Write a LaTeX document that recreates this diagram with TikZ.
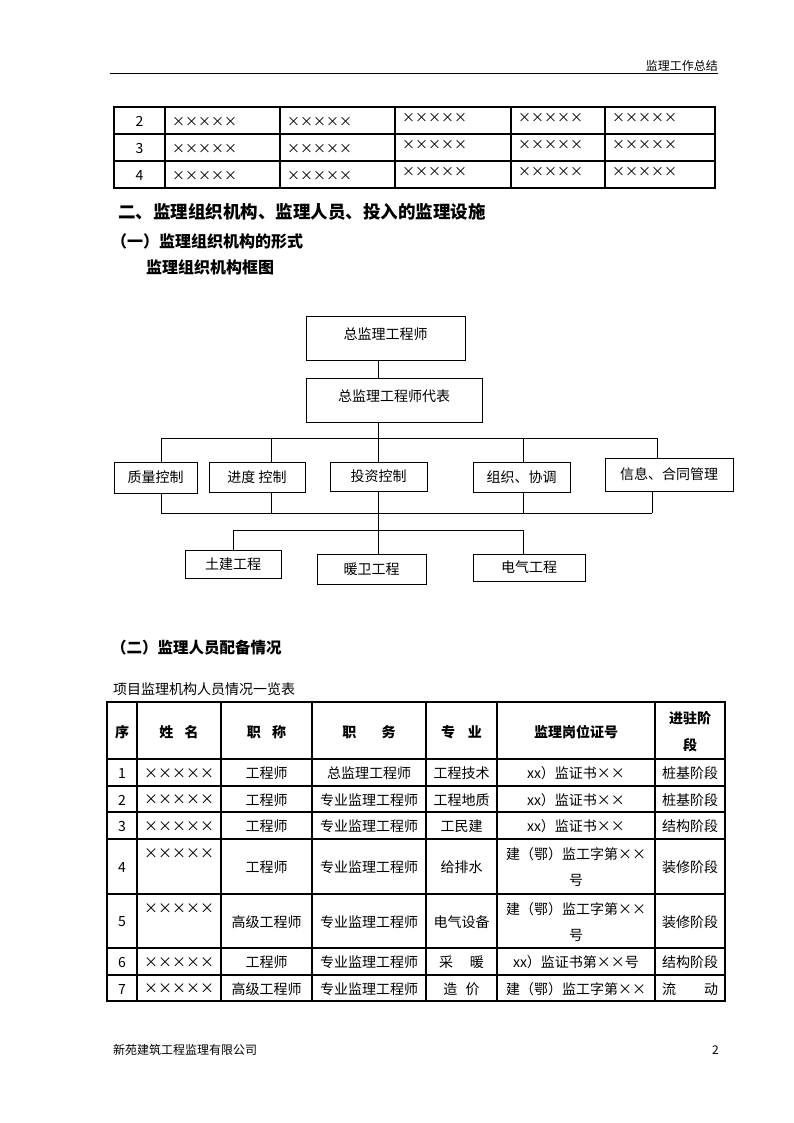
\documentclass[tikz,border=0pt]{standalone}
\usepackage{fontspec}
\setmainfont{Noto Sans CJK SC}
\usetikzlibrary{positioning}
\tikzset{
  orgbox/.style={draw, line width=0.9pt, inner sep=2pt, font=\fontsize{14}{16}\selectfont},
  link/.style={line width=0.9pt},
  grid/.style={line width=1.1pt},
  cell/.style={inner sep=0pt, align=center, yshift=-1pt, font=\fontsize{14}{26}\selectfont},
  headcell/.style={cell, font=\bfseries\fontsize{14}{27}\selectfont},
  title/.style={anchor=west, inner sep=0pt, font=\bfseries\fontsize{16}{18}\selectfont},
  plain/.style={inner sep=0pt, font=\fontsize{12}{14}\selectfont},
}
\newcommand\crs{\makebox[1em]{×}}
\newcommand\crosses{\crs\crs\crs\crs\crs}

\begin{document}
\begin{tikzpicture}[x=1pt,y=-1pt]
  \useasboundingbox (0,0) rectangle (794,1123);
  \fill[white] (0,0) rectangle (794,1123);

  % running head
  \node[plain, anchor=east] (head) at (718,66) {监理工作总结};
  \draw[line width=1pt] (110,74) -- (718,74);

  % first table (continued)
  \draw[grid] (114,107) rectangle (715,188);
  \foreach \y in {134,161} \draw[grid] (114,\y) -- (715,\y);
  \foreach \x in {165,280,395,511,605} \draw[grid] (\x,107) -- (\x,188);
  \foreach \n [count=\i] in {2,3,4} {
    \pgfmathsetmacro\yc{120.5+27*(\i-1)}
    \node[cell, font=\fontsize{14}{16}\selectfont] at (139.5,\yc) {\n};
    \foreach \x in {172,287}
      \node[cell, anchor=west, font=\fontsize{13}{16}\selectfont] at (\x,\yc) {\crosses};
    \foreach \x in {402,518,612}
      \node[cell, anchor=west, font=\fontsize{13}{16}\selectfont] at (\x,\yc-4) {\crosses};
  }

  % headings
  \node[title, font=\bfseries\fontsize{17.5}{20}\selectfont] (sec2) at (118,212) {二、监理组织机构、监理人员、投入的监理设施};
  \node[title] (sec21) at (111,241) {（一）监理组织机构的形式};
  \node[title] (sec21b) at (146,267) {监理组织机构框图};

  % organisation chart
  \node[orgbox, minimum width=159, minimum height=44, text depth=9pt] (zj) at (385.5,338) {总监理工程师};
  \node[orgbox, minimum width=176, minimum height=44, text depth=9pt] (db) at (394,400) {总监理工程师代表};

  \node[orgbox, minimum width=83,  minimum height=31] (zl) at (155.5,477.5) {质量控制};
  \node[orgbox, minimum width=96,  minimum height=30] (jd) at (257,477) {进度 控制};
  \node[orgbox, minimum width=97,  minimum height=29] (tz) at (378.5,476.5) {投资控制};
  \node[orgbox, minimum width=97,  minimum height=30] (zx) at (521.5,477) {组织、协调};
  \node[orgbox, minimum width=128, minimum height=33] (xx) at (669,474.5) {信息、合同管理};

  \node[orgbox, minimum width=96,  minimum height=28] (tj) at (233,564) {土建工程};
  \node[orgbox, minimum width=109, minimum height=30] (nw) at (371.5,569) {暖卫工程};
  \node[orgbox, minimum width=112, minimum height=27] (dq) at (529,567.5) {电气工程};

  \coordinate (spine) at (378,0);
  \coordinate (busA) at (0,438);
  \coordinate (busB) at (0,513);
  \coordinate (busC) at (0,530);

  \draw[link] (spine |- zj.south) -- (spine |- db.north);
  \draw[link] (spine |- db.south) -- (spine |- busA);
  \draw[link] (161,0 |- busA) -- (657,0 |- busA);
  \foreach \n/\x in {zl/161, jd/271, tz/378, zx/523, xx/657}
    \draw[link] (\x,0 |- busA) -- (\x,0 |- \n.north);
  \draw[link] (161,0 |- busB) -- (652,0 |- busB);
  \foreach \n/\x in {zl/161, jd/271, zx/523, xx/652}
    \draw[link] (\x,0 |- \n.south) -- (\x,0 |- busB);
  \draw[link] (spine |- tz.south) -- (spine |- nw.north);
  \draw[link] (233,0 |- busC) -- (523,0 |- busC);
  \draw[link] (233,0 |- busC) -- (233,0 |- tj.north);
  \draw[link] (523,0 |- busC) -- (523,0 |- dq.north);

  % staff section
  \node[title, font=\bfseries\fontsize{15.5}{18}\selectfont] (sec22) at (111,648) {（二）监理人员配备情况};
  \node[plain, anchor=west, font=\fontsize{14}{16}\selectfont] (caption) at (113,689) {项目监理机构人员情况一览表};

  \draw[grid] (107,702) rectangle (725,1001);
  \foreach \y in {759,786,812,839,894,948,975} \draw[grid] (107,\y) -- (725,\y);
  \foreach \x in {137,221,312,426,497,655} \draw[grid] (\x,702) -- (\x,1001);

  \foreach \x/\t in {122/序, 179/{姓\hspace{0.8em}名}, 266.5/{职\hspace{0.8em}称},
      369/{职\hspace{1.8em}务}, 461.5/{专\hspace{0.9em}业}, 576/监理岗位证号, 690/{进驻阶\\段}}
    \node[headcell] at (\x,731) {\t};

  \foreach \n/\yc/\yn/\rank/\duty/\major/\cert/\stage in {
      1/772.5/772.5/工程师/总监理工程师/工程技术/{xx）监证书\crs\crs}/桩基阶段,
      2/799/799/工程师/专业监理工程师/工程地质/{xx）监证书\crs\crs}/桩基阶段,
      3/825.5/825.5/工程师/专业监理工程师/工民建/{xx）监证书\crs\crs}/结构阶段,
      4/866.5/853/工程师/专业监理工程师/给排水/{建（鄂）监工字第\crs\crs\\号}/装修阶段,
      5/921/908/高级工程师/专业监理工程师/电气设备/{建（鄂）监工字第\crs\crs\\号}/装修阶段,
      6/961.5/961.5/工程师/专业监理工程师/{采\hspace{1.2em}暖}/{xx）监证书第\crs\crs 号}/结构阶段,
      7/988/988/高级工程师/专业监理工程师/{造\hspace{0.6em}价}/{建（鄂）监工字第\crs\crs}/{流\hspace{2em}动}} {
    \node[cell] at (122,\yc) {\n};
    \node[cell] at (179,\yn) {\crosses};
    \node[cell] at (266.5,\yc) {\rank};
    \node[cell] at (369,\yc) {\duty};
    \node[cell] at (461.5,\yc) {\major};
    \node[cell] at (576,\yc) {\cert};
    \node[cell] at (690,\yc) {\stage};
  }

  % footer
  \node[plain, anchor=west] (firm) at (113,1050) {新苑建筑工程监理有限公司};
  \node[plain, anchor=east] (page) at (719,1050) {2};
\end{tikzpicture}
\end{document}
